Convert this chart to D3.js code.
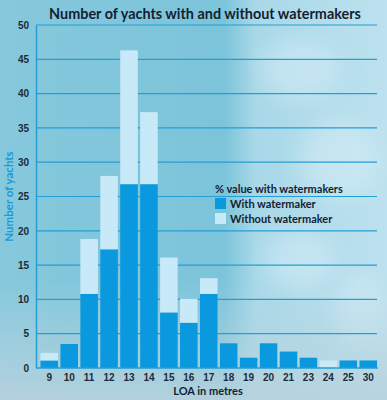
<!DOCTYPE html>
<html>
<head>
<meta charset="utf-8">
<script src="https://d3js.org/d3.v7.min.js"></script>
<style>
body { margin: 0; }
svg { display: block; font-family: Lato, "Open Sans", sans-serif; }
.tick text { font-size: 10px; font-weight: 700; fill: #1c2b3a; }
</style>
</head>
<body>
<svg width="387" height="400"></svg>
<script>
var categories = ["9", "10", "11", "12", "13", "14", "15", "16", "17", "18", "19", "20", "21", "23", "24", "25", "30"];
var withWatermaker = [1.1, 3.5, 10.8, 17.3, 26.8, 26.8, 8.1, 6.6, 10.8, 3.6, 1.5, 3.6, 2.4, 1.5, 0, 1.1, 1.1];
var withoutWatermaker = [1.1, 0, 8.0, 10.7, 19.5, 10.5, 8.0, 3.5, 2.3, 0, 0, 0, 0, 0, 1.1, 0, 0];
var yTicks = [0, 5, 10, 15, 20, 25, 30, 35, 40, 45, 50];
var seriesNames = ["With watermaker", "Without watermaker"];

var svg = d3.select("svg");

// background: sky photo approximated
var defs = svg.append("defs");
var bg = defs.append("linearGradient").attr("id", "bg").attr("x1", 0).attr("x2", 1).attr("y1", 0).attr("y2", 0);
bg.append("stop").attr("offset", 0).attr("stop-color", "#86c8dc");
bg.append("stop").attr("offset", 0.58).attr("stop-color", "#7cc4da");
bg.append("stop").attr("offset", 0.66).attr("stop-color", "#a9d8e8");
bg.append("stop").attr("offset", 1).attr("stop-color", "#bde1ee");
var bot = defs.append("linearGradient").attr("id", "bot").attr("x1", 0).attr("x2", 0).attr("y1", 0).attr("y2", 1);
bot.append("stop").attr("offset", 0).attr("stop-color", "#b8d6e2").attr("stop-opacity", 0);
bot.append("stop").attr("offset", 1).attr("stop-color", "#b8d2dc").attr("stop-opacity", 0.9);
defs.append("filter").attr("id", "blur").append("feGaussianBlur").attr("stdDeviation", 10);

svg.append("rect").attr("width", 387).attr("height", 400).attr("fill", "url(#bg)");
var clouds = svg.append("g").attr("filter", "url(#blur)").attr("fill", "#d6eef6").attr("opacity", 0.5);
[[300, 70, 40, 30], [340, 160, 40, 40], [300, 260, 35, 30], [360, 310, 25, 35]]
  .forEach(function(c) {
    clouds.append("ellipse").attr("cx", c[0]).attr("cy", c[1]).attr("rx", c[2]).attr("ry", c[3]);
  });
svg.append("rect").attr("y", 280).attr("width", 387).attr("height", 120).attr("fill", "url(#bot)");

var plotLeft = 36, plotRight = 378, plotTop = 25, plotBottom = 368;

var x = d3.scaleBand()
    .domain(categories)
    .range([38.5, 379])
    .paddingInner(0.12)
    .paddingOuter(0.1);

var y = d3.scaleLinear()
    .domain([0, 50])
    .range([plotBottom, plotTop]);

// gridlines
svg.append("g")
  .selectAll("line")
  .data(yTicks.slice(1))
  .enter().append("line")
    .attr("x1", plotLeft)
    .attr("x2", 377)
    .attr("y1", function(d) { return y(d); })
    .attr("y2", function(d) { return y(d); })
    .attr("stroke", "#249ed6")
    .attr("stroke-width", 1.2);

// stacked bars
var table = categories.map(function(c, i) {
  return {cat: c, "With watermaker": withWatermaker[i], "Without watermaker": withoutWatermaker[i]};
});
var stack = d3.stack().keys(seriesNames)(table);
var colors = {"With watermaker": "#0a98de", "Without watermaker": "#c8e9f8"};

svg.append("g")
  .selectAll("g")
  .data(stack)
  .enter().append("g")
    .attr("fill", function(d) { return colors[d.key]; })
  .selectAll("rect")
  .data(function(d) { return d; })
  .enter().append("rect")
    .attr("x", function(d) { return x(d.data.cat); })
    .attr("y", function(d) { return y(d[1]); })
    .attr("width", x.bandwidth())
    .attr("height", function(d) { return y(d[0]) - y(d[1]); });

// axes
var yAxis = svg.append("g")
    .attr("transform", "translate(" + plotLeft + ",0)")
    .call(d3.axisLeft(y).tickValues(yTicks).tickSize(0).tickPadding(7));
yAxis.select(".domain").attr("stroke", "#249ed6").attr("stroke-width", 1.5);

var xAxis = svg.append("g")
    .attr("transform", "translate(0," + plotBottom + ")")
    .call(d3.axisBottom(x).tickSize(0).tickPadding(6));
xAxis.select(".domain").remove();
svg.append("line")
    .attr("x1", plotLeft).attr("x2", plotRight)
    .attr("y1", plotBottom).attr("y2", plotBottom)
    .attr("stroke", "#249ed6").attr("stroke-width", 1.5);

// titles
svg.append("text")
    .attr("x", 205)
    .attr("y", 19)
    .attr("text-anchor", "middle")
    .attr("font-size", 14.4)
    .attr("font-weight", 700)
    .attr("fill", "#141e33")
    .text("Number of yachts with and without watermakers");

svg.append("text")
    .attr("transform", "translate(13," + (plotTop + plotBottom) / 2 + ") rotate(-90)")
    .attr("text-anchor", "middle")
    .attr("font-size", 11.5)
    .attr("font-weight", 700)
    .attr("fill", "#1a9ad8")
    .text("Number of yachts");

svg.append("text")
    .attr("x", 208)
    .attr("y", 395)
    .attr("text-anchor", "middle")
    .attr("font-size", 11)
    .attr("font-weight", 700)
    .attr("fill", "#141e33")
    .text("LOA in metres");

// legend
var legend = svg.append("g").attr("transform", "translate(215,193)");
legend.append("text")
    .attr("font-size", 11)
    .attr("font-weight", 700)
    .attr("fill", "#141e33")
    .text("% value with watermakers");
var items = legend.selectAll("g.item")
  .data(seriesNames)
  .enter().append("g")
    .attr("class", "item")
    .attr("transform", function(d, i) { return "translate(0," + (5 + i * 15) + ")"; });
items.append("rect")
    .attr("width", 11)
    .attr("height", 11)
    .attr("fill", function(d) { return colors[d]; });
items.append("text")
    .attr("x", 15)
    .attr("y", 9.5)
    .attr("font-size", 11)
    .attr("font-weight", 700)
    .attr("fill", "#141e33")
    .text(function(d) { return d; });
</script>
</body>
</html>
